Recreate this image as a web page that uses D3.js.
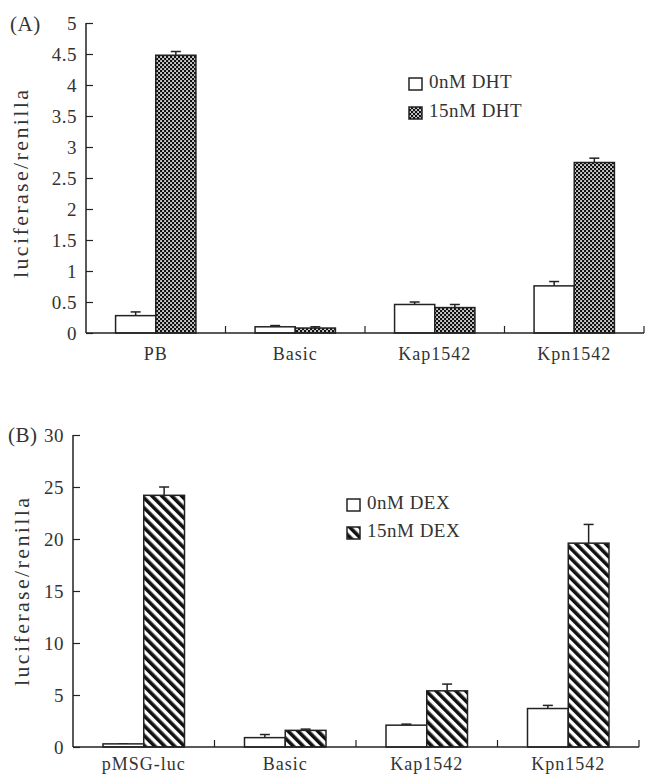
<!DOCTYPE html>
<html>
<head>
<meta charset="utf-8">
<script src="https://cdn.jsdelivr.net/npm/d3@7"></script>
<style>
  body { margin: 0; background: #fff; }
  text { font-family: "Liberation Serif", serif; fill: #333; }
</style>
</head>
<body>
<script>
// panel A data
var catsA = ["PB", "Basic", "Kap1542", "Kpn1542"];
var seriesA = ["0nM DHT", "15nM DHT"];
var dht0 = [0.28, 0.10, 0.46, 0.76];
var dht0Err = [0.06, 0.02, 0.04, 0.07];
var dht15 = [4.48, 0.08, 0.41, 2.75];
var dht15Err = [0.06, 0.02, 0.05, 0.07];
var ticksA = [0, 0.5, 1, 1.5, 2, 2.5, 3, 3.5, 4, 4.5, 5];

// panel B data
var catsB = ["pMSG-luc", "Basic", "Kap1542", "Kpn1542"];
var seriesB = ["0nM DEX", "15nM DEX"];
var dex0 = [0.3, 0.9, 2.1, 3.7];
var dex0Err = [0, 0.3, 0.1, 0.3];
var dex15 = [24.2, 1.6, 5.4, 19.6];
var dex15Err = [0.8, 0.12, 0.65, 1.8];
var ticksB = [0, 5, 10, 15, 20, 25, 30];

var svg = d3.select("body").append("svg")
    .attr("width", 646)
    .attr("height", 774);

var defs = svg.append("defs");

// checker pattern for panel A
var chk = defs.append("pattern")
    .attr("id", "checker")
    .attr("patternUnits", "userSpaceOnUse")
    .attr("width", 4).attr("height", 4);
chk.append("rect").attr("width", 4).attr("height", 4).attr("fill", "#111");
chk.append("rect").attr("x", 0.2).attr("y", 0.2).attr("width", 1.7).attr("height", 1.7).attr("fill", "#fff");
chk.append("rect").attr("x", 2.2).attr("y", 2.2).attr("width", 1.7).attr("height", 1.7).attr("fill", "#fff");

// diagonal stripes for panel B
var stripe = defs.append("pattern")
    .attr("id", "stripes")
    .attr("patternUnits", "userSpaceOnUse")
    .attr("width", 7).attr("height", 7)
    .attr("patternTransform", "rotate(-45)");
stripe.append("rect").attr("width", 7).attr("height", 7).attr("fill", "#fff");
stripe.append("rect").attr("width", 3.6).attr("height", 7).attr("fill", "#111");

function drawPanel(opt) {
    var g = svg.append("g");

    var x0 = d3.scaleBand().domain(opt.cats).range([opt.left, opt.right]);
    var bw = x0.bandwidth();
    var x1 = d3.scaleBand().domain([0, 1]).range([bw * 0.212, bw * 0.788]);
    var y = d3.scaleLinear().domain([0, opt.max]).range([opt.bottom, opt.top]);

    var rows = [];
    opt.cats.forEach(function(c, i) {
        rows.push({cat: c, s: 0, v: opt.v0[i], e: opt.e0[i]});
        rows.push({cat: c, s: 1, v: opt.v1[i], e: opt.e1[i]});
    });

    // error bars (upper only)
    var eb = g.selectAll(".err").data(rows).enter().append("g")
        .attr("class", "err")
        .attr("stroke", "#222").attr("stroke-width", 1.5);
    eb.append("line")
        .attr("x1", function(d) { return x0(d.cat) + x1(d.s) + x1.bandwidth() / 2; })
        .attr("x2", function(d) { return x0(d.cat) + x1(d.s) + x1.bandwidth() / 2; })
        .attr("y1", function(d) { return y(d.v); })
        .attr("y2", function(d) { return y(d.v + d.e); });
    eb.append("line")
        .attr("x1", function(d) { return x0(d.cat) + x1(d.s) + x1.bandwidth() / 2 - 5; })
        .attr("x2", function(d) { return x0(d.cat) + x1(d.s) + x1.bandwidth() / 2 + 5; })
        .attr("y1", function(d) { return y(d.v + d.e); })
        .attr("y2", function(d) { return y(d.v + d.e); });

    g.selectAll(".bar").data(rows).enter().append("rect")
        .attr("class", "bar")
        .attr("x", function(d) { return x0(d.cat) + x1(d.s); })
        .attr("y", function(d) { return y(d.v); })
        .attr("width", x1.bandwidth())
        .attr("height", function(d) { return opt.bottom - y(d.v); })
        .attr("fill", function(d) { return d.s == 0 ? "#fff" : opt.fill; })
        .attr("stroke", "#222")
        .attr("stroke-width", 1.5);

    // y axis
    var yAxis = d3.axisLeft(y)
        .tickValues(opt.ticks)
        .tickFormat(function(d) { return String(d); })
        .tickSize(-7)
        .tickPadding(9);
    var ya = g.append("g")
        .attr("transform", "translate(" + opt.left + ",0)")
        .call(yAxis);
    ya.select(".domain").attr("d", "M0," + opt.top + "V" + opt.bottom).attr("stroke", "#222").attr("stroke-width", 1.5);
    ya.selectAll(".tick line").attr("stroke", "#222").attr("stroke-width", 1.2);
    ya.selectAll(".tick text")
        .attr("font-family", "Liberation Serif")
        .attr("font-size", 19)
        .attr("letter-spacing", 0.5)
        .attr("fill", "#333");

    // x axis with ticks at category boundaries
    var xa = g.append("g").attr("transform", "translate(0," + opt.bottom + ")");
    xa.append("line")
        .attr("x1", opt.left).attr("x2", opt.right)
        .attr("stroke", "#222").attr("stroke-width", 1.5);
    xa.selectAll(".xt").data(opt.cats).enter().append("line")
        .attr("class", "xt")
        .attr("x1", function(d) { return x0(d) + bw; })
        .attr("x2", function(d) { return x0(d) + bw; })
        .attr("y1", 0).attr("y2", -7)
        .attr("stroke", "#222").attr("stroke-width", 1.2);
    xa.selectAll(".xl").data(opt.cats).enter().append("text")
        .attr("class", "xl")
        .attr("x", function(d) { return x0(d) + bw / 2; })
        .attr("y", opt.labelDy)
        .attr("text-anchor", "middle")
        .attr("font-size", 18)
        .attr("letter-spacing", 1)
        .text(function(d) { return d; });

    // axis title
    g.append("text")
        .attr("transform", "translate(" + opt.titleX + "," + opt.titleY + ") rotate(-90)")
        .attr("text-anchor", "middle")
        .attr("dominant-baseline", "middle")
        .attr("font-size", 22)
        .attr("textLength", 188)
        .attr("lengthAdjust", "spacing")
        .text("luciferase/renilla");

    // panel letter
    g.append("text")
        .attr("x", opt.tagX).attr("y", opt.tagY)
        .attr("font-size", 21)
        .attr("letter-spacing", 0.5)
        .attr("fill", "#222")
        .text(opt.tag);

    // legend
    var lg = g.append("g").attr("transform", "translate(" + opt.legX + "," + opt.legY + ")");
    var items = lg.selectAll("g").data(opt.series).enter().append("g")
        .attr("transform", function(d, i) { return "translate(0," + i * opt.legGap + ")"; });
    items.append("rect")
        .attr("width", 13).attr("height", 12)
        .attr("fill", function(d, i) { return i == 0 ? "#fff" : opt.fill; })
        .attr("stroke", "#222").attr("stroke-width", 1.5);
    items.append("text")
        .attr("x", 20).attr("y", 6)
        .attr("dominant-baseline", "middle")
        .attr("font-size", 19)
        .attr("letter-spacing", 0.5)
        .text(function(d) { return d; });
}

drawPanel({
    cats: catsA, series: seriesA,
    v0: dht0, e0: dht0Err, v1: dht15, e1: dht15Err,
    ticks: ticksA, max: 5,
    left: 86, right: 644, top: 23, bottom: 333,
    fill: "url(#checker)",
    labelDy: 27,
    titleX: 23, titleY: 184,
    tag: "(A)", tagX: 10, tagY: 31,
    legX: 409, legY: 78, legGap: 29
});

drawPanel({
    cats: catsB, series: seriesB,
    v0: dex0, e0: dex0Err, v1: dex15, e1: dex15Err,
    ticks: ticksB, max: 30,
    left: 73, right: 639, top: 435, bottom: 747,
    fill: "url(#stripes)",
    labelDy: 23,
    titleX: 24, titleY: 592,
    tag: "(B)", tagX: 8, tagY: 442,
    legX: 347, legY: 499, legGap: 28
});
</script>
</body>
</html>
